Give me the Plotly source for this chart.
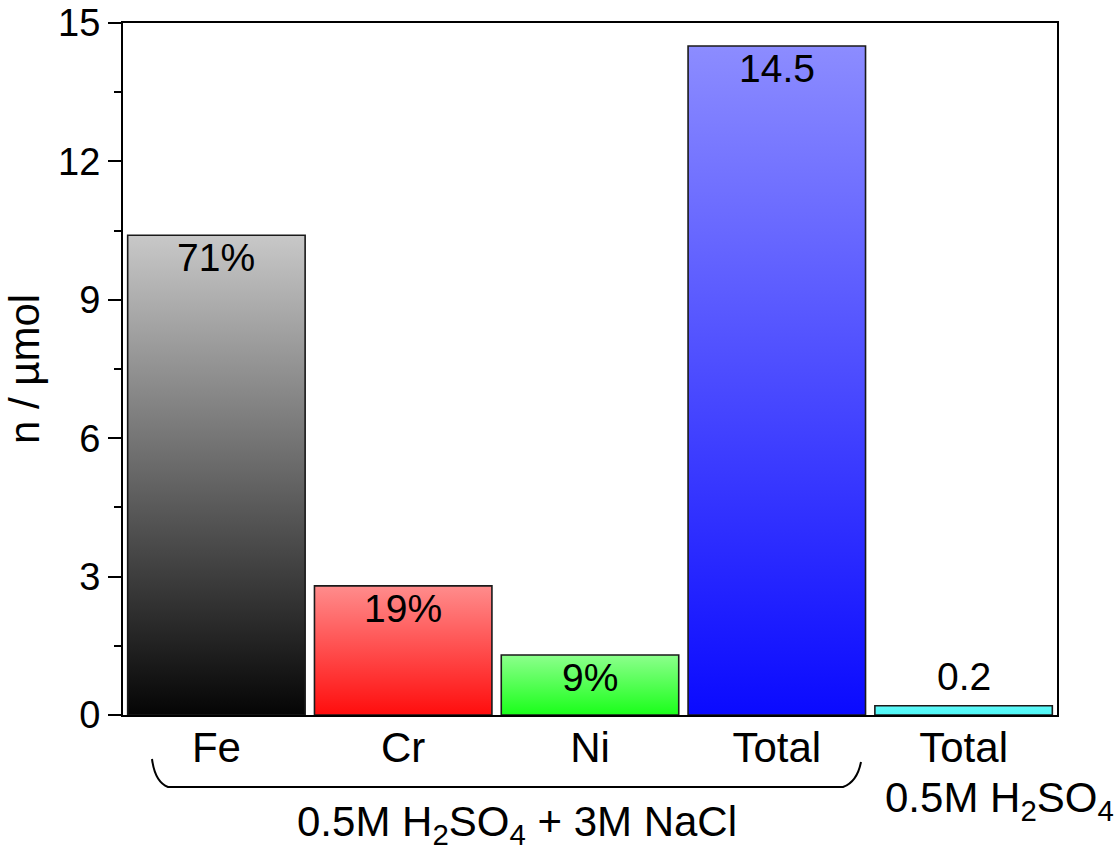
import plotly.graph_objects as go

# Dissolved metal amounts (µmol)
categories = ["Fe", "Cr", "Ni", "Total", "Total"]
values = [10.4, 2.8, 1.3, 14.5, 0.2]
bar_labels = ["71%", "19%", "9%", "14.5", "0.2"]
label_inside = [True, True, True, True, False]

# gradient colours, bottom -> top
bottom_colors = ["#050505", "#ff0d0d", "#1aff1a", "#0a0aff", "#4ff7f7"]
top_colors = ["#c8c8c8", "#ff8c8c", "#8cff8c", "#8c8cff", "#5ff9f9"]

y_ticks = [0, 3, 6, 9, 12, 15]

FONT = "Liberation Sans, Arial, sans-serif"
FS_NUM = 38
FS_LBL = 39
FS_TXT = 42
BAR_W = 0.95

fig = go.Figure()

for i, (v, c0, c1) in enumerate(zip(values, bottom_colors, top_colors)):
    x0, x1 = i - BAR_W / 2, i + BAR_W / 2
    fig.add_trace(go.Scatter(
        x=[x0, x1, x1, x0, x0],
        y=[0, 0, v, v, 0],
        mode="lines",
        fill="toself",
        fillgradient=dict(type="vertical", colorscale=[[0, c0], [1, c1]]),
        line=dict(color="#1a1a1a", width=1.6),
        hoverinfo="skip",
        showlegend=False,
    ))

for i, (v, t, inside) in enumerate(zip(values, bar_labels, label_inside)):
    fig.add_annotation(
        x=i, y=v, xref="x", yref="y", text=t, showarrow=False,
        yanchor="top" if inside else "bottom",
        yshift=1 if inside else 6,
        font=dict(family=FONT, size=FS_LBL, color="black"),
    )

# layout helpers: pixel position -> paper fraction
def px(xp):
    return (xp - 123) / 934

def py(yp):
    return 1 - (yp - 23) / 692

# second line of the last category label
fig.add_annotation(
    x=px(999), y=py(800), xref="paper", yref="paper",
    text="0.5M H<sub>2</sub>SO<sub>4</sub>",
    showarrow=False, xanchor="center", yanchor="middle",
    font=dict(family=FONT, size=FS_TXT, color="black"),
)

# brace grouping the NaCl measurements
brace = (f"M {px(152)},{py(759)} Q {px(155)},{py(782)} {px(168)},{py(787)} "
         f"L {px(843)},{py(787)} Q {px(857)},{py(782)} {px(861)},{py(762)}")
fig.add_shape(type="path", path=brace, xref="paper", yref="paper",
              line=dict(color="black", width=2))

fig.add_annotation(
    x=px(517), y=py(824), xref="paper", yref="paper",
    text="0.5M H<sub>2</sub>SO<sub>4</sub> + 3M NaCl", showarrow=False,
    xanchor="center", yanchor="middle",
    font=dict(family=FONT, size=FS_TXT, color="black"),
)

fig.update_layout(
    width=1118, height=855,
    margin=dict(l=123, r=61, t=23, b=140),
    paper_bgcolor="white", plot_bgcolor="white",
    font=dict(family=FONT, size=FS_NUM, color="black"),
    showlegend=False,
)

fig.update_xaxes(
    range=[-0.5, 4.5], automargin=False,
    tickmode="array", tickvals=list(range(len(categories))), ticktext=categories,
    ticks="", ticklabelstandoff=-5, showgrid=False, zeroline=False,
    showline=True, linecolor="black", linewidth=2, mirror=True,
    tickfont=dict(family=FONT, size=FS_TXT),
)

fig.update_yaxes(
    range=[0, 15], automargin=False,
    tickmode="array", tickvals=y_ticks,
    ticks="outside", ticklen=13, tickwidth=2, tickcolor="black",
    minor=dict(dtick=1.5, tick0=0, ticks="outside", ticklen=7, tickwidth=2,
               tickcolor="black", showgrid=False),
    showgrid=False, zeroline=False,
    showline=True, linecolor="black", linewidth=2, mirror=True,
    tickfont=dict(family=FONT, size=FS_NUM),
    title=dict(text="n / µmol", font=dict(family=FONT, size=FS_TXT), standoff=5),
)

fig.write_html("out.html")
